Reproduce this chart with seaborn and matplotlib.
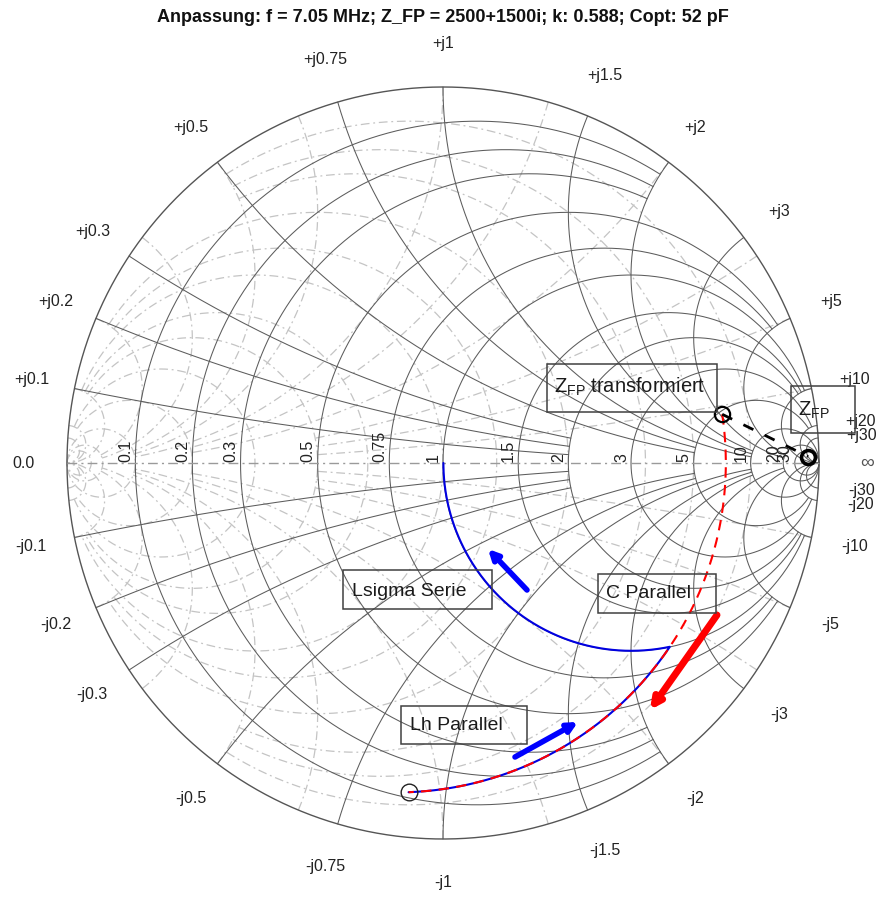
import numpy as np
import matplotlib
matplotlib.use("Agg")
import matplotlib.pyplot as plt
import seaborn as sns
import pandas as pd
from matplotlib.patches import Rectangle

sns.set_theme(style="white")
plt.rcParams["font.family"] = ["Liberation Sans", "DejaVu Sans"]
plt.rcParams["mathtext.fontset"] = "custom"
plt.rcParams["mathtext.rm"] = "Liberation Sans"

# ---------------- data ----------------
grid_values = [0.1, 0.2, 0.3, 0.5, 0.75, 1, 1.5, 2, 3, 5, 10, 20, 30]
grid_ends = [2, 2, 2, 5, 5, 10, 10, 10, 20, 20, np.inf, np.inf, np.inf]
r_labels = ["0.1", "0.2", "0.3", "0.5", "0.75", "1", "1.5", "2", "3", "5", "10", "20", "30"]
x_labels_pos = ["+j" + s for s in r_labels]
x_labels_neg = ["-j" + s for s in r_labels]

Z0 = 50.0
Z_FP = 2500 + 1500j          # ohm
Z_FP_trans = 260 + 156j      # ohm, transformed
b_C_end = 1.10               # normalized susceptance after C parallel
b_Lh_end = 0.348             # normalized susceptance after Lh parallel

title = "Anpassung: f = 7.05 MHz; Z_FP = 2500+1500i; k: 0.588; Copt: 52 pF"

# ---------------- geometry ----------------
W, H = 885, 899
CX, CY, RP = 443.0, 463.0, 376.0


def P(px, py):
    return ((px - CX) / RP, (CY - py) / RP)


def gam(z):
    z = np.asarray(z, dtype=complex)
    return (z - 1) / (z + 1)


fig = plt.figure(figsize=(W / 100, H / 100), dpi=100)
ax = fig.add_axes([0, 0, 1, 1])
ax.set_xlim(-CX / RP, (W - CX) / RP)
ax.set_ylim(-(H - CY) / RP, CY / RP)
ax.axis("off")

imp_col = "#5c5c5c"
adm_col = "#c4c4c4"
adm_ls = (0, (7, 3, 1.5, 3))


def draw_grid(sign, color, ls, lw, z):
    for v, e in zip(grid_values, grid_ends):
        te = np.arctan(e) if np.isfinite(e) else np.pi / 2 - 1e-4
        # resistance circle r=v, |x|<=e
        t = np.linspace(-te, te, 800)
        g = sign * gam(v + 1j * np.tan(t))
        ax.plot(g.real, g.imag, color=color, ls=ls, lw=lw, zorder=z)
        # reactance arcs x=+-v, 0<=r<=e
        t = np.linspace(0, te, 600)
        for s in (1, -1):
            g = sign * gam(np.tan(t) + 1j * s * v)
            ax.plot(g.real, g.imag, color=color, ls=ls, lw=lw, zorder=z)


draw_grid(-1, adm_col, adm_ls, 0.9, 1)
draw_grid(1, imp_col, "-", 0.75, 2)

th = np.linspace(0, 2 * np.pi, 720)
ax.plot(np.cos(th), np.sin(th), color="#555555", lw=1.0, zorder=3)
ax.plot([-1, 1], [0, 0], color="#9a9a9a", lw=1.0, ls=(0, (7, 3, 1.5, 3)), zorder=3)

# labels
lab_r = 1.117
lab_col = "#222222"
lab_fs = 11.5
for v, sp, sn in zip(grid_values, x_labels_pos, x_labels_neg):
    gp = complex(gam(1j * v)) * lab_r
    gn = complex(gam(-1j * v)) * lab_r
    ax.text(gp.real, gp.imag, sp, ha="center", va="center", fontsize=lab_fs, color=lab_col)
    ax.text(gn.real, gn.imag, sn, ha="center", va="center", fontsize=lab_fs, color=lab_col)
ax.text(-lab_r, 0, "0.0", ha="center", va="center", fontsize=lab_fs, color=lab_col)
ax.text(lab_r + 0.01, 0, "\u221e", ha="center", va="center", fontsize=14, color="#555555")
for v, s in zip(grid_values, r_labels):
    gx = float(np.real(gam(v)))
    ax.text(gx - 2 / RP, 1.0 / RP, s, ha="right", va="bottom", rotation=90,
            fontsize=lab_fs, color=lab_col, zorder=4)

# ---------------- matching path ----------------
z_fp = Z_FP / Z0
z_tr = Z_FP_trans / Z0
y_tr = 1 / z_tr
g0 = y_tr.real

# C parallel: constant conductance, b from Im(y_tr) to b_C_end
b = np.linspace(y_tr.imag, b_C_end, 300)
gC = gam(1 / (g0 + 1j * b))
# Lh parallel: b from b_C_end down to b_Lh_end
b2 = np.linspace(b_C_end, b_Lh_end, 300)
gL = gam(1 / (g0 + 1j * b2))
# Lsigma serie: constant resistance up to x = 0
z_end = 1 / (g0 + 1j * b_Lh_end)
xs = np.linspace(z_end.imag, 0, 300)
gS = gam(z_end.real + 1j * xs)

blue_path = np.concatenate([gL, gS])
df_blue = pd.DataFrame({"u": blue_path.real, "v": blue_path.imag})
df_red = pd.DataFrame({"u": gC.real, "v": gC.imag})
sns.lineplot(data=df_blue, x="u", y="v", sort=False, estimator=None, ax=ax,
             color="#0000e0", lw=1.5, zorder=6)
sns.lineplot(data=df_red, x="u", y="v", sort=False, estimator=None, ax=ax,
             color="#ff0000", lw=1.5, ls=(0, (5, 3.5)), zorder=7)

g_fp = complex(gam(z_fp))
g_tr = complex(gam(z_tr))
ax.plot([g_tr.real, g_fp.real], [g_tr.imag, g_fp.imag], color="black", lw=2.0,
        ls=(0, (4, 4.5)), zorder=7)
ax.plot([g_tr.real], [g_tr.imag], marker="o", mfc="none", mec="black", ms=11, mew=1.6, zorder=8)
ax.plot([g_fp.real], [g_fp.imag], marker="o", mfc="none", mec="black", ms=10, mew=2.6, zorder=8)
ax.plot([gL[0].real], [gL[0].imag], marker="o", mfc="none", mec="#222222", ms=12, mew=1.0, zorder=8)

# arrows
def arrow(tail, head, color, lw, ms):
    ax.annotate("", xy=P(*head), xytext=P(*tail),
                arrowprops=dict(arrowstyle="-|>", color=color, lw=lw, mutation_scale=ms,
                                shrinkA=0, shrinkB=0), zorder=9)

arrow((527, 590), (488, 549), "#0000ff", 4, 14)
arrow((717, 615), (650, 710), "#ff0000", 5, 15)
arrow((515, 757), (578, 722), "#0000ff", 4, 14)

# text boxes
def box(x0, y0, x1, y1, tx, ty, s, fs=14):
    a = P(x0, y1)
    b_ = P(x1, y0)
    ax.add_patch(Rectangle(a, b_[0] - a[0], b_[1] - a[1], fill=False,
                           ec="#404040", lw=1.1, zorder=10))
    p = P(tx, ty)
    ax.text(p[0], p[1], s, ha="left", va="center", fontsize=fs, color="#1a1a1a", zorder=11)

box(547, 364, 717, 412, 554, 387, r"Z$_{\mathregular{FP}}$ transformiert", 14.5)
box(791, 386, 855, 433, 798, 410, r"Z$_{\mathregular{FP}}$", 14.5)
box(343, 570, 492, 609, 352, 591, "Lsigma Serie")
box(598, 574, 716, 613, 606, 594, "C Parallel")
box(401, 706, 527, 744, 410, 726, "Lh Parallel")

fig.text(0.5, 1 - 18 / H, title, ha="center", va="center", fontsize=13,
         fontweight="bold", color="#111111")

fig.savefig("out.png", dpi=100, facecolor="white")
